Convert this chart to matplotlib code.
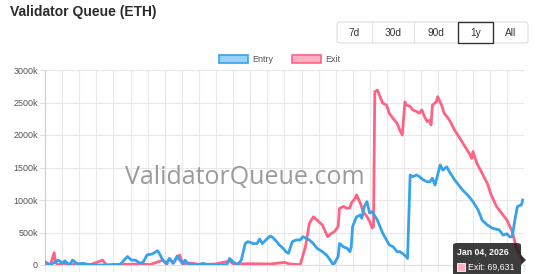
import pandas as pd
import matplotlib.pyplot as plt
from matplotlib.patches import FancyBboxPatch, Rectangle, Patch, Polygon

plt.rcParams['font.family'] = ['Liberation Sans', 'DejaVu Sans']

start = pd.Timestamp('2025-01-04')

# days since start, queue size in thousands of ETH
entry_days = [0, 4, 10, 14, 15, 19, 21, 25, 29, 33, 37, 42, 50, 53, 57, 63, 66, 69, 73, 75,
              78, 82, 86, 88, 90, 93, 95, 98, 101, 103, 105, 107, 109, 112, 116, 121, 124, 134,
              139, 141, 144, 147, 150, 153, 155, 159, 162, 164, 166, 170, 172, 174, 177, 179,
              182, 184, 186, 189, 192, 195, 197, 200, 202, 205, 208, 210, 212, 215, 218, 220,
              221, 224, 225, 228, 231, 233, 234, 235, 238, 241, 242, 244, 246, 248, 250, 254,
              256, 258, 261, 263, 266, 269, 271, 273, 276, 277, 279, 281, 284, 286, 289, 292,
              294, 296, 298, 300, 302, 304, 307, 309, 313, 317, 319, 323, 327, 331, 334, 338,
              342, 347, 350, 353, 355, 357, 359, 361, 364, 365]
entry_vals = [50, 0, 75, 25, 65, 0, 75, 15, 25, 10, 5, 0, 0, 10, 0, 130, 75, 75, 25, 45,
              155, 170, 220, 155, 75, 25, 100, 25, 140, 75, 25, 75, 25, 10, 0, 25, 0, 0,
              5, 100, 45, 5, 75, 330, 360, 330, 330, 400, 330, 410, 445, 425, 360, 310,
              255, 205, 180, 360, 385, 385, 435, 410, 385, 330, 255, 230, 205, 155, 75, 10,
              20, 130, 330, 280, 255, 205, 280, 590, 740, 770, 720, 900, 975, 800, 820, 690,
              590, 490, 385, 310, 280, 205, 205, 180, 130, 100, 1385, 1360, 1385, 1360, 1310, 1280,
              1280, 1335, 1230, 1385, 1540, 1460, 1510, 1435, 1310, 1205, 1155, 1075, 975, 845, 690, 615,
              565, 540, 460, 480, 435, 435, 690, 900, 925, 1000]

exit_days = [0, 4, 5, 7, 8, 10, 14, 19, 27, 34, 44, 47, 57, 73, 80, 90, 93, 95, 98, 101,
             103, 105, 111, 118, 130, 141, 144, 157, 172, 183, 187, 195, 199, 202, 205, 208,
             210, 212, 216, 219, 221, 224, 225, 228, 231, 233, 234, 237, 238, 241, 243, 246,
             248, 250, 251, 252, 254, 256, 258, 261, 263, 266, 269, 271, 273, 275, 276, 279,
             281, 284, 286, 288, 290, 292, 294, 295, 296, 299, 300, 303, 305, 309, 313, 317,
             321, 325, 326, 327, 330, 334, 338, 341, 345, 349, 353, 357, 360, 365]
exit_vals = [10, 0, 60, 190, 40, 0, 30, 0, 20, 0, 75, 0, 10, 15, 5, 75, 10, 100, 30, 110,
             155, 20, 30, 10, 15, 60, 15, 20, 15, 40, 15, 5, 280, 640, 740, 690,
             650, 615, 435, 490, 510, 590, 870, 900, 870, 880, 950, 1025, 1080, 950, 820, 745,
             670, 570, 590, 2665, 2690, 2590, 2490, 2460, 2335, 2255, 2180, 2080, 2000, 2510, 2460, 2440,
             2385, 2360, 2335, 2385, 2280, 2205, 2230, 2155, 2460, 2510, 2590, 2460, 2335, 2230, 2075, 1950,
             1820, 1690, 1640, 1745, 1565, 1410, 1255, 1075, 900, 795, 690, 515, 280, 69.631]

y_ticks = [0, 500, 1000, 1500, 2000, 2500, 3000]
y_labels = ['0', '500k', '1000k', '1500k', '2000k', '2500k', '3000k']
buttons = ['7d', '30d', '90d', '1y', 'All']

blue = '#36a2eb'
red = '#ff6384'

entry_x = [start + pd.Timedelta(days=d) for d in entry_days]
exit_x = [start + pd.Timedelta(days=d) for d in exit_days]

W, H = 541, 274
fig = plt.figure(figsize=(W / 100, H / 100), dpi=100)
ax = fig.add_axes([45 / W, (H - 265) / H, 479 / W, 195 / H])

ax.plot(exit_x, exit_vals, color=red, lw=2.0, zorder=3)
ax.plot(entry_x, entry_vals, color=blue, lw=2.0, zorder=4)

ax.set_ylim(0, 3000)
ax.set_xlim(start, start + pd.Timedelta(days=366))
ax.set_yticks(y_ticks)
ax.set_yticklabels(y_labels)
ax.set_xticks([start + pd.Timedelta(days=13.07 * k) for k in range(29)])
ax.set_xticklabels([])
ax.tick_params(axis='y', length=4, color='#e0e0e0', labelsize=6.5, labelcolor='#555555', pad=1)
ax.tick_params(axis='x', length=5, color='#e8e8e8')
ax.grid(True, color='#e8e8e8', lw=0.8)
ax.set_axisbelow(True)
for s in ['top', 'right']:
    ax.spines[s].set_visible(False)
ax.spines['left'].set_color('#cccccc')
ax.spines['bottom'].set_color('#dddddd')

# watermark
ax.text(0.418, 0.45, 'ValidatorQueue.com', transform=ax.transAxes, fontsize=18,
        color='#8a8a8a', alpha=0.85, ha='center', va='center', family='Open Sans', zorder=5)

# title
fig.text(10 / W, 1 - 12 / H, 'Validator Queue (ETH)', fontsize=10, fontweight='bold',
         color='#2b2b2b', ha='left', va='center')

# legend
leg = ax.legend(handles=[Patch(facecolor='#9ad0f5', edgecolor=blue, lw=1.2, label='Entry'),
                         Patch(facecolor='#ffb1c1', edgecolor=red, lw=1.2, label='Exit')],
                loc='lower center', bbox_to_anchor=(0.49, 1.0), ncol=2, frameon=False,
                fontsize=6.5, handlelength=3.2, handleheight=1.0, columnspacing=2.0,
                handletextpad=0.5, borderaxespad=0.3)
for t in leg.get_texts():
    t.set_color('#555555')

# range buttons
edges = [337, 372, 414, 458, 493, 528]
fig.patches.append(FancyBboxPatch((edges[0] / W, 1 - 43 / H), (edges[-1] - edges[0]) / W, 21 / H,
                                  boxstyle='round,pad=0,rounding_size=0.008', transform=fig.transFigure,
                                  facecolor='white', edgecolor='#dddddd', lw=0.8))
for i, b in enumerate(buttons):
    x0, x1 = edges[i], edges[i + 1]
    if i > 0:
        fig.add_artist(plt.Line2D([x0 / W, x0 / W], [1 - 43 / H, 1 - 22 / H], color='#e2e2e2', lw=0.8))
    if b == '1y':
        fig.patches.append(Rectangle((x0 / W, 1 - 43 / H), (x1 - x0) / W, 21 / H,
                                     transform=fig.transFigure, facecolor='white',
                                     edgecolor='#333333', lw=1.0, zorder=3))
    fig.text((x0 + x1) / 2 / W, 1 - 33 / H, b, fontsize=7.3, color='#333333',
             ha='center', va='center', zorder=4)

# tooltip
fig.patches.append(FancyBboxPatch((453 / W, -5 / H), 68 / W, 36 / H,
                                  boxstyle='round,pad=0,rounding_size=0.008', transform=fig.transFigure,
                                  facecolor='#1a1a1a', edgecolor='none', alpha=0.85, zorder=10))
fig.patches.append(Polygon([(521 / W, (H - 255) / H), (526 / W, (H - 260) / H), (521 / W, (H - 265) / H)],
                           closed=True, transform=fig.transFigure, facecolor='#1a1a1a',
                           edgecolor='none', alpha=0.85, zorder=10))
fig.text(457 / W, (H - 252) / H, 'Jan 04, 2026', fontsize=6.3, fontweight='bold', color='white',
         ha='left', va='center', zorder=11)
fig.patches.append(Rectangle((457 / W, (H - 271) / H), 8 / W, 8 / H, transform=fig.transFigure,
                             facecolor='#ffb1c1', edgecolor='white', lw=0.6, zorder=11))
fig.text(468 / W, (H - 267) / H, 'Exit: 69,631', fontsize=6.3, color='white',
         ha='left', va='center', zorder=11)

fig.savefig('out.png', dpi=100)
